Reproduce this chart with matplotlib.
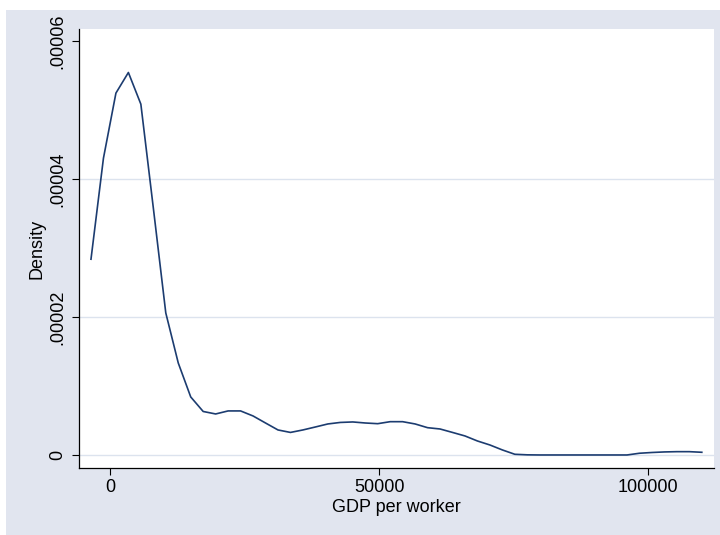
import matplotlib.pyplot as plt
from matplotlib.patches import Rectangle

# kernel density estimate of GDP per worker (evaluation points and densities)
gdp = [-3590, -1273, 1044, 3361, 5678, 7995, 10312, 12629, 14946, 17263,
       19580, 21897, 24214, 26531, 28848, 31165, 33482, 35799, 38116, 40433,
       42750, 45067, 47384, 49701, 52018, 54335, 56652, 58969, 61286, 63603,
       65920, 68237, 70554, 72871, 75188, 77505, 79822, 82139, 84456, 86773,
       89090, 91407, 93724, 96041, 98358, 100675, 102992, 105309, 107626, 109943]
density = [2.840e-5, 4.306e-5, 5.250e-5, 5.549e-5, 5.090e-5, 3.585e-5, 2.061e-5, 1.335e-5, 8.42e-6, 6.31e-6,
           5.95e-6, 6.39e-6, 6.39e-6, 5.66e-6, 4.64e-6, 3.63e-6, 3.27e-6, 3.63e-6, 4.06e-6, 4.50e-6,
           4.72e-6, 4.79e-6, 4.64e-6, 4.54e-6, 4.83e-6, 4.83e-6, 4.50e-6, 3.96e-6, 3.77e-6, 3.27e-6,
           2.76e-6, 2.03e-6, 1.45e-6, 7.3e-7, 1.0e-7, 2e-8, 0, 0, 0, 0,
           0, 0, 0, 0, 2.5e-7, 3.6e-7, 4.4e-7, 4.8e-7, 4.8e-7, 3.9e-7]

xticks = [0, 50000, 100000]
yticks = [0, 0.00002, 0.00004, 0.00006]
ytick_labels = ['0', '.00002', '.00004', '.00006']
grid_levels = [0, 0.00002, 0.00004]

plt.rcParams['font.family'] = ['Liberation Sans', 'DejaVu Sans']

region_col = '#e1e5ef'
line_col = '#1c3c70'

fig = plt.figure(figsize=(7.2, 5.35), dpi=100, facecolor='white')
fig.patches.append(Rectangle((6 / 720, 0), 1, 1 - 10 / 535, transform=fig.transFigure,
                             facecolor=region_col, edgecolor='none', zorder=-10))

ax = fig.add_axes([79 / 720, 1 - 468 / 535, (714 - 79) / 720, (468 - 29) / 535])
ax.set_zorder(5)
ax.set_facecolor('white')

for g in grid_levels:
    ax.axhline(g, color='#dce3ee', lw=1.0, zorder=1)

ax.plot(gdp, density, color=line_col, lw=1.2, zorder=3)

ax.set_xlim(-5818, 112207)
ax.set_ylim(-1.89e-6, 6.18e-5)

ax.set_xticks(xticks)
ax.set_xticklabels([str(t) for t in xticks])
ax.set_yticks(yticks)
ax.set_yticklabels(ytick_labels, rotation=90, va='center')

ax.tick_params(axis='both', direction='out', length=5, width=0.8, colors='black',
               labelsize=13)
ax.tick_params(axis='y', pad=4)
ax.tick_params(axis='x', pad=3)

for side in ['top', 'right']:
    ax.spines[side].set_visible(False)
for side in ['left', 'bottom']:
    ax.spines[side].set_linewidth(0.9)
    ax.spines[side].set_color('black')

ax.set_xlabel('GDP per worker', fontsize=13, labelpad=2)
ax.set_ylabel('Density', fontsize=13, labelpad=3)

fig.savefig('out.png', dpi=100, facecolor=fig.get_facecolor())
